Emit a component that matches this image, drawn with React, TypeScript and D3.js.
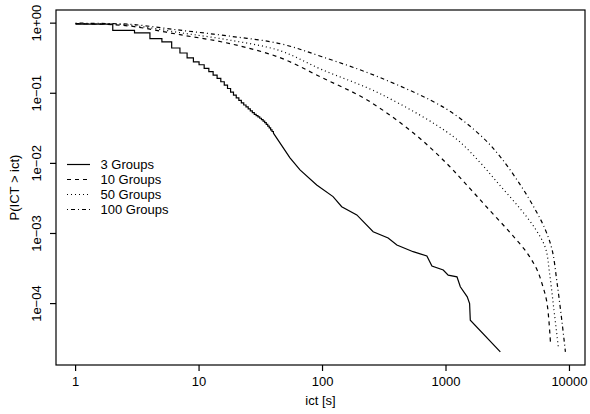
import React from "react";
import * as d3 from "d3";

const W = 590;
const H = 414;
const margin = { left: 56, top: 10, right: 5, bottom: 49 };

// 3 groups: integer-valued inter-contact times give a visible staircase at the start
const stepIct3 = [1, 2, 3, 4, 5, 6, 7, 8, 9, 10, 11, 12, 13, 14, 15, 16, 17, 18, 19, 20, 21, 22, 23, 24, 25, 26, 27, 28, 29, 30, 31, 32, 33, 34, 35, 36, 37, 38, 39, 40];
const stepP3 = [0.968, 0.789, 0.725, 0.6, 0.539, 0.442, 0.375, 0.319, 0.28, 0.255, 0.226, 0.203, 0.182, 0.163, 0.146, 0.131, 0.117, 0.104, 0.094, 0.086, 0.079, 0.073, 0.068, 0.064, 0.06, 0.056, 0.053, 0.05, 0.048, 0.046, 0.044, 0.042, 0.04, 0.038, 0.036, 0.034, 0.032, 0.03, 0.0285, 0.027];
const tailIct3 = [40, 54.5, 65.7, 89.7, 121.7, 143, 189.5, 257, 340, 400, 542, 700, 769, 950, 1042, 1227, 1306, 1486, 1553, 1573, 2754];
const tailP3 = [0.027, 0.012, 0.00807, 0.00493, 0.00336, 0.00241, 0.00184, 0.00106, 0.000863, 0.000685, 0.00055, 0.000477, 0.000343, 0.000301, 0.000255, 0.000241, 0.000174, 0.000125, 0.0001, 5.8e-5, 2.05e-5];

const ict10 = [1, 2, 3, 7, 17.8, 45.2, 99, 228, 542, 1000, 1574, 2286, 3320, 4540, 5470, 6040, 6560, 7010];
const p10 = [0.984, 0.952, 0.891, 0.685, 0.51, 0.322, 0.167, 0.0807, 0.0273, 0.0102, 0.00432, 0.00209, 0.00102, 0.000526, 0.000301, 0.000184, 0.000105, 2.85e-5];

const ict50 = [1, 2, 3, 7, 17.8, 45.2, 99, 293, 1146, 1897, 2754, 4000, 5300, 6390, 6880, 7460, 8150];
const p50 = [0.984, 0.968, 0.921, 0.732, 0.572, 0.405, 0.217, 0.0984, 0.0241, 0.0102, 0.00477, 0.00224, 0.00116, 0.000621, 0.000282, 8.6e-5, 2.29e-5];

const ict100 = [1, 2, 3, 7, 17.8, 45.2, 99, 293, 1000, 1960, 2754, 4000, 5300, 6390, 7240, 7940, 8730, 9270];
const p100 = [1.0, 0.984, 0.952, 0.794, 0.652, 0.51, 0.332, 0.167, 0.0601, 0.0239, 0.0124, 0.00493, 0.00217, 0.00112, 0.00058, 0.000196, 5.2e-5, 2.05e-5];

const xTicks = [1, 10, 100, 1000, 10000];
const xTickLabels = ["1", "10", "100", "1000", "10000"];
const yTicks = [1, 1e-1, 1e-2, 1e-3, 1e-4];
const yTickLabels = ["1e+00", "1e\u221201", "1e\u221202", "1e\u221203", "1e\u221204"];
const seriesNames = ["3 Groups", "10 Groups", "50 Groups", "100 Groups"];
const seriesDash = ["none", "4,4", "1,3", "1,3,4,3"];

const FONT = "'Liberation Sans', Arial, Helvetica, sans-serif";

type Pt = [number, number];
const zip = (xs: number[], ys: number[]): Pt[] => xs.map((x, i) => [x, ys[i]]);

// log-scale domain padded by 4% on each side (like R's default axis style)
function paddedLogDomain(values: number[]): [number, number] {
  const [lo, hi] = d3.extent(values) as [number, number];
  const a = Math.log10(lo);
  const b = Math.log10(hi);
  const pad = (b - a) * 0.04;
  return [Math.pow(10, a - pad), Math.pow(10, b + pad)];
}

export default function App() {
  const plotL = margin.left;
  const plotR = W - margin.right;
  const plotT = margin.top;
  const plotB = H - margin.bottom;

  const allX = [...stepIct3, ...tailIct3, ...ict10, ...ict50, ...ict100];
  const allY = [...stepP3, ...tailP3, ...p10, ...p50, ...p100];

  const x = d3.scaleLog().domain(paddedLogDomain(allX)).range([plotL, plotR]);
  const y = d3.scaleLog().domain(paddedLogDomain(allY)).range([plotB, plotT]);

  const stepLine = d3
    .line<Pt>()
    .x((d) => x(d[0]))
    .y((d) => y(d[1]))
    .curve(d3.curveStepAfter);
  const straight = d3
    .line<Pt>()
    .x((d) => x(d[0]))
    .y((d) => y(d[1]));
  const smooth = d3
    .line<Pt>()
    .x((d) => x(d[0]))
    .y((d) => y(d[1]))
    .curve(d3.curveCatmullRom.alpha(0.5));

  const curves = [
    { d: (stepLine(zip(stepIct3, stepP3)) || "") + (straight(zip(tailIct3, tailP3)) || ""), dash: seriesDash[0] },
    { d: smooth(zip(ict10, p10)) || "", dash: seriesDash[1] },
    { d: smooth(zip(ict50, p50)) || "", dash: seriesDash[2] },
    { d: smooth(zip(ict100, p100)) || "", dash: seriesDash[3] },
  ];

  const tick = 6;
  const legendX = 67;
  const legendY = 164.5;
  const legendStep = 15;

  return (
    <svg
      width={W}
      height={H}
      style={{ position: "absolute", left: 0, top: 0, background: "#fff" }}
      fontFamily={FONT}
    >
      <rect x={0} y={0} width={W} height={H} fill="#fff" />

      {curves.map((c, i) => (
        <path
          key={i}
          d={c.d}
          fill="none"
          stroke="#000"
          strokeWidth={1.2}
          strokeDasharray={c.dash}
        />
      ))}

      {/* frame */}
      <rect
        x={plotL}
        y={plotT}
        width={plotR - plotL}
        height={plotB - plotT}
        fill="none"
        stroke="#000"
        strokeWidth={1.2}
      />

      {/* x axis */}
      {xTicks.map((t, i) => (
        <g key={"x" + i}>
          <line x1={x(t)} x2={x(t)} y1={plotB} y2={plotB + tick} stroke="#000" strokeWidth={1.2} />
          <text x={x(t)} y={386} textAnchor="middle" fontSize={13} fill="#000">
            {xTickLabels[i]}
          </text>
        </g>
      ))}
      <text x={(plotL + plotR) / 2} y={405} textAnchor="middle" fontSize={13} fill="#000">
        ict [s]
      </text>

      {/* y axis */}
      {yTicks.map((t, i) => (
        <g key={"y" + i}>
          <line x1={plotL - tick} x2={plotL} y1={y(t)} y2={y(t)} stroke="#000" strokeWidth={1.2} />
          <text
            transform={`translate(41,${y(t)}) rotate(-90)`}
            textAnchor="middle"
            fontSize={13}
            fill="#000"
          >
            {yTickLabels[i]}
          </text>
        </g>
      ))}
      <text
        transform={`translate(19,${(plotT + plotB) / 2}) rotate(-90)`}
        textAnchor="middle"
        fontSize={13}
        fill="#000"
      >
        P(ICT &gt; ict)
      </text>

      {/* legend */}
      {seriesNames.map((name, i) => (
        <g key={"l" + i}>
          <line
            x1={legendX}
            x2={legendX + 23}
            y1={legendY + i * legendStep}
            y2={legendY + i * legendStep}
            stroke="#000"
            strokeWidth={1.2}
            strokeDasharray={seriesDash[i]}
          />
          <text x={100.5} y={legendY + i * legendStep + 4.6} fontSize={13} fill="#000">
            {name}
          </text>
        </g>
      ))}
    </svg>
  );
}
